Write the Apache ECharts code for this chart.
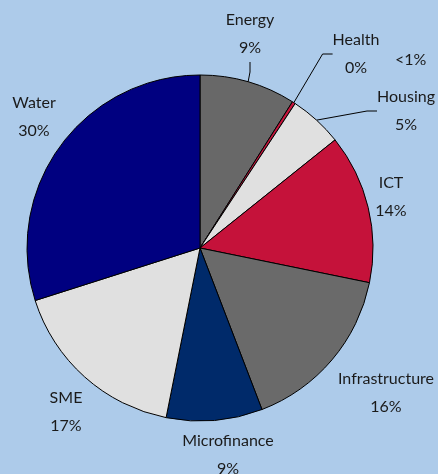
<!DOCTYPE html>
<html>
<head>
<meta charset="utf-8">
<script src="https://cdn.jsdelivr.net/npm/echarts@6/dist/echarts.min.js"></script>
<style>
  html, body { margin: 0; padding: 0; background: #adcbea; }
  #sectorPie { width: 438px; height: 474px; }
</style>
</head>
<body>
<div id="sectorPie"></div>
<script>
// sectors, clockwise from 12 o'clock
var sectorNames = ['Energy', 'Health', 'Housing', 'ICT', 'Infrastructure', 'Microfinance', 'SME', 'Water'];
var sectorShares = [9, 0.3, 5, 14, 16, 9, 17, 30];
var sectorColors = ['#686868', '#c8143c', '#e0e0e0', '#c5123a', '#6a6a6a', '#002a6a', '#e0e0e0', '#000080'];

// where each label block sits (centre of the two text lines)
var labelPos = [[250, 34], [356, 54], [406, 111], [391, 197], [386, 393], [228, 455], [66, 412], [34, 117]];
var leaderOn = [true, true, true, false, false, false, false, false];

var sectorPieChart = '';
var sectorPieOpt = '';

initChart();

function initChart() {
  sectorPieChart = echarts.init(document.getElementById('sectorPie'));
  sectorPieChart.setOption(buildOpt());
}

function buildOpt() {
  var data = sectorNames.map(function (n, i) {
    return {
      name: n,
      value: sectorShares[i],
      itemStyle: { color: sectorColors[i] },
      labelLine: { show: leaderOn[i] }
    };
  });
  sectorPieOpt = {
    backgroundColor: '#adcbea',
    animation: false,
    textStyle: { fontFamily: 'Lato' },
    graphic: [{
      type: 'text',
      left: 395,
      top: 52,
      style: { text: '<1%', fontSize: 16, fontFamily: 'Lato', fill: '#1a1a1a' }
    }],
    series: [{
      type: 'pie',
      center: [200, 248],
      radius: 173,
      startAngle: 90,
      clockwise: true,
      percentPrecision: 0,
      data: data,
      itemStyle: { borderColor: '#000', borderWidth: 1 },
      label: {
        show: true,
        position: 'outside',
        formatter: '{b}\n{d}%',
        fontSize: 16,
        lineHeight: 28,
        color: '#1a1a1a',
        fontFamily: 'Lato',
        overflow: 'none',
        edgeDistance: 0,
        bleedMargin: 0
      },
      labelLine: {
        show: true,
        length: 10,
        length2: 10,
        lineStyle: { color: '#000', width: 1 }
      },
      labelLayout: function (p) {
        var pos = labelPos[p.dataIndex];
        return { x: pos[0], y: pos[1], align: 'center', verticalAlign: 'middle' };
      },
      emphasis: { disabled: true }
    }]
  };
  return sectorPieOpt;
}
</script>
</body>
</html>
